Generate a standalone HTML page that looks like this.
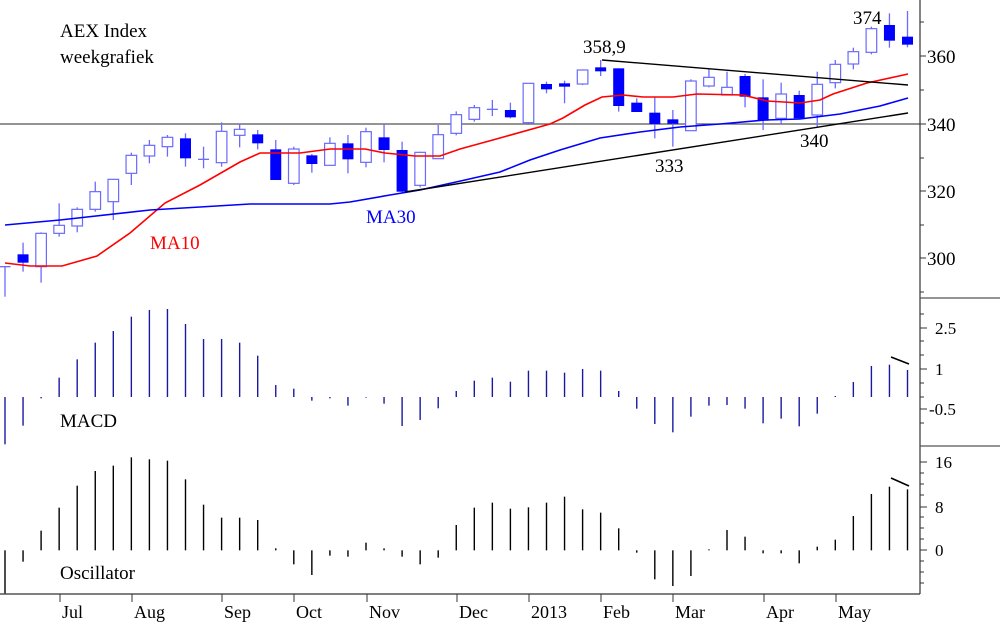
<!DOCTYPE html>
<html><head><meta charset="utf-8"><style>
html,body{margin:0;padding:0;background:#fff}
svg{display:block}
text{font-family:"Liberation Serif",serif;}
</style></head><body>
<svg id="s" width="1000" height="625" xmlns="http://www.w3.org/2000/svg">
<rect width="1000" height="625" fill="#fff"/>
<g id="g"></g>
<text x="60" y="37" font-size="19">AEX Index</text>
<text x="60" y="63" font-size="19">weekgrafiek</text>
<text x="150" y="249" font-size="19" fill="#f00">MA10</text>
<text x="366" y="223" font-size="19" fill="#00f">MA30</text>
<text x="583" y="53" font-size="19">358,9</text>
<text x="655" y="172" font-size="19">333</text>
<text x="800" y="147" font-size="19">340</text>
<text x="853" y="24" font-size="19">374</text>
<text x="60" y="427" font-size="19">MACD</text>
<text x="60" y="579" font-size="19">Oscillator</text>
</svg>
<script>
var g=document.getElementById('g'),h='';
function X(i){return 5+18.05*i;}
// candles: [bodyTop,bodyBot,wickTop,wickBot,filled] in zoom units (/3)
var C=[[800,800,800,890,0],[763,788,728,815,1],[700,800,697,848,0],[676,700,610,710,0],[628,678,622,697,0],[575,628,545,635,0],[538,605,538,660,0],[466,520,458,555,0],[436,468,420,490,0],[412,440,405,470,0],[415,475,400,500,1],[478,478,440,505,0],[394,488,367,500,0],[388,406,370,442,0],[403,430,390,448,1],[448,540,420,540,1],[447,550,440,555,0],[466,492,462,518,1],[430,496,412,496,0],[430,478,405,520,1],[395,487,383,502,0],[412,450,374,487,1],[450,575,425,578,1],[457,556,455,562,0],[404,476,375,476,0],[344,400,334,406,0],[323,358,315,365,0],[328,328,300,348,0],
[330,352,308,355,1],[250,368,250,370,0],[252,268,245,280,1],[250,260,242,310,1],[210,252,208,255,0],[202,214,180,228,1],[205,318,205,335,1],[308,336,295,336,1],[338,372,292,415,1],[358,371,330,440,1],[243,392,238,392,0],[232,258,208,262,0],[262,285,215,285,0],[228,290,222,322,1],[292,362,238,390,1],[282,355,248,372,0],[285,355,272,355,1],[253,345,215,380,0],[193,248,180,265,0],[155,192,143,208,0],[86,157,80,163,0],[75,122,40,143,1],[110,134,33,142,1]];
function ln(x1,y1,x2,y2,c,w){h+='<line x1="'+x1+'" y1="'+y1+'" x2="'+x2+'" y2="'+y2+'" stroke="'+c+'" stroke-width="'+(w||1)+'"/>';}
function pl(p,c,w){h+='<polyline fill="none" stroke="'+c+'" stroke-width="'+w+'" points="'+p.map(function(a){return a.join(',')}).join(' ')+'"/>';}
ln(0,124,920,124,'#555',1.2);
C.forEach(function(c,i){var x=X(i),t=c[0]/3,b=c[1]/3;
 ln(x,c[2]/3,x,c[3]/3,'#6a6aff',1.3);
 if(b-t<1.2){ln(x-5.5,t,x+5.5,t,'#6a6aff',1.3);}
 else if(c[4]) h+='<rect x="'+(x-5.5)+'" y="'+t+'" width="11" height="'+(b-t)+'" fill="#0000ff"/>';
 else h+='<rect x="'+(x-5.3)+'" y="'+t+'" width="10.6" height="'+(b-t)+'" fill="#fff" stroke="#6a6aff" stroke-width="1.2"/>';
});
pl([[5,263],[30,266],[62,266],[97,256],[130,233],[165,203],[200,185],[240,162],[260,153],[300,153],[330,149],[365,149],[385,153],[415,156],[440,156],[460,149],[500,138],[550,124],[563,118],[585,105],[602,97],[623,95],[643,97],[673,97],[697,94],[743,95],[767,101],[800,103],[820,100],[833,94],[867,83],[908,74]],'#f00',1.6);
pl([[5,225],[60,220],[150,210],[250,204],[330,204],[350,202],[390,195],[420,190],[465,180],[500,172],[530,160],[560,150],[600,138],[640,132],[680,127],[720,124],[765,120],[800,119],[840,114],[880,106],[908,98]],'#00f',1.6);
ln(405,192,908,113,'#000',1.4);
ln(602,60,908,85,'#000',1.4);
// axes
ln(920,0,920,594,'#333',1.2);ln(0,594,920,594,'#333',1.2);
ln(920,298,1000,298,'#555',1.2);ln(920,446,1000,446,'#555',1.2);
[[56,'360'],[124,'340'],[191,'320'],[258,'300']].forEach(function(a){ln(920,a[0],926,a[0],'#333');h+='<text x="927" y="'+(a[0]+7)+'" font-size="19">'+a[1]+'</text>';});
[22,90,158,225,292].forEach(function(y){ln(920,y,924,y,'#333');});
[[328,'2.5'],[369,'1'],[409,'-0.5']].forEach(function(a){ln(920,a[0],927,a[0],'#333');h+='<text x="'+(a[1]=='-0.5'?929:935)+'" y="'+(a[0]+6)+'" font-size="17">'+a[1]+'</text>';});
[314,341,355,383,397,423].forEach(function(y){ln(920,y,924,y,'#333');});
[[462,'16'],[507,'8'],[550,'0']].forEach(function(a){ln(920,a[0],927,a[0],'#333');h+='<text x="935" y="'+(a[0]+6)+'" font-size="17">'+a[1]+'</text>';});
[473,484,495,517,528,539,561,572,583].forEach(function(y){ln(920,y,924,y,'#333');});
// MACD
var M=[463,407,325,263,208,158,123,80,60,57,102,147,147,158,197,285,296,332,325,347,323,341,408,390,355,303,272,263,275,242,242,248,237,242,303,356,402,427,380,347,345,356,400,386,409,371,318,276,228,224,240];
M.forEach(function(v,i){ln(X(i),290+321/3,X(i),290+v/3,'#1a1aa0',1.4);});
var O=[910,815,722,653,587,543,527,502,508,512,568,644,683,683,690,775,823,855,797,800,758,775,800,823,803,705,653,638,656,652,638,620,658,668,715,788,868,888,858,778,720,740,790,790,820,770,749,678,612,590,598];
O.forEach(function(v,i){ln(X(i),290+781/3,X(i),290+v/3,'#000',1.4);});
ln(891,357,909,364,'#000',1.6);ln(891,478,909,486,'#000',1.6);
[[60,'Jul'],[132,'Aug'],[222,'Sep'],[294,'Oct'],[367,'Nov'],[457,'Dec'],[529,'2013'],[601,'Feb'],[673,'Mar'],[764,'Apr'],[836,'May']].forEach(function(a){ln(a[0],594,a[0],602,'#333');h+='<text x="'+(a[0]+2)+'" y="618" font-size="18">'+a[1]+'</text>';});
g.innerHTML=h;
</script>
</body></html>
